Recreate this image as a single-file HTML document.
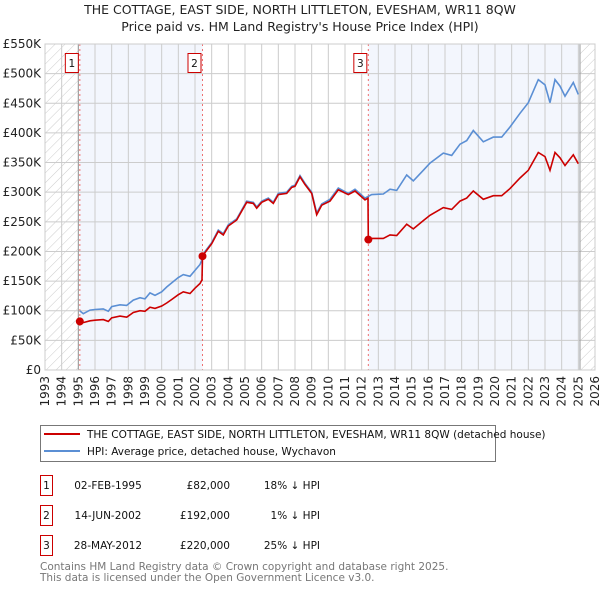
<!DOCTYPE html>
<html><head><meta charset="utf-8"><style>
body{margin:0;background:#fff;font-family:"DejaVu Sans","Liberation Sans",sans-serif;}
svg text{font-family:"DejaVu Sans","Liberation Sans",sans-serif;}
</style></head><body>
<svg id="chart" width="600" height="590" xmlns="http://www.w3.org/2000/svg">
<defs><pattern id="hatch" width="7" height="7" patternUnits="userSpaceOnUse" patternTransform="rotate(45)"><line x1="0" y1="0" x2="0" y2="7" stroke="#ccc" stroke-width="1"/></pattern></defs>
<text x="300" y="14" font-size="12.5" text-anchor="middle" fill="#222">THE COTTAGE, EAST SIDE, NORTH LITTLETON, EVESHAM, WR11 8QW</text>
<text x="300" y="31" font-size="12.5" text-anchor="middle" fill="#222">Price paid vs. HM Land Registry's House Price Index (HPI)</text>
<g id="plot"></g>
<g>
<rect x="40.5" y="425.5" width="455" height="36" fill="#fff" stroke="#777"/>
<line x1="44" y1="434" x2="80" y2="434" stroke="#cc0000" stroke-width="2"/>
<text x="87" y="438" font-size="10.5" fill="#111">THE COTTAGE, EAST SIDE, NORTH LITTLETON, EVESHAM, WR11 8QW (detached house)</text>
<line x1="44" y1="451" x2="80" y2="451" stroke="#5b8fd4" stroke-width="2"/>
<text x="87" y="455" font-size="10.5" fill="#111">HPI: Average price, detached house, Wychavon</text>
</g>
<g font-size="10.5" fill="#111">
<g><rect x="40.5" y="475.5" width="12" height="20" fill="#fff" stroke="#cc0000"/><text x="46.5" y="489" text-anchor="middle">1</text><text x="108" y="489" text-anchor="middle">02-FEB-1995</text><text x="230" y="489" text-anchor="end">£82,000</text><text x="320" y="489" text-anchor="end">18% ↓ HPI</text></g>
<g><rect x="40.5" y="505.5" width="12" height="20" fill="#fff" stroke="#cc0000"/><text x="46.5" y="519" text-anchor="middle">2</text><text x="108" y="519" text-anchor="middle">14-JUN-2002</text><text x="230" y="519" text-anchor="end">£192,000</text><text x="320" y="519" text-anchor="end">1% ↓ HPI</text></g>
<g><rect x="40.5" y="535.5" width="12" height="20" fill="#fff" stroke="#cc0000"/><text x="46.5" y="549" text-anchor="middle">3</text><text x="108" y="549" text-anchor="middle">28-MAY-2012</text><text x="230" y="549" text-anchor="end">£220,000</text><text x="320" y="549" text-anchor="end">25% ↓ HPI</text></g>
</g>
<text x="40" y="570" font-size="10.5" fill="#777">Contains HM Land Registry data © Crown copyright and database right 2025.</text>
<text x="40" y="581" font-size="10.5" fill="#777">This data is licensed under the Open Government Licence v3.0.</text>
</svg>
<script>
const yTicks=[0,50,100,150,200,250,300,350,400,450,500,550];
const yTickLabels=["£0","£50K","£100K","£150K","£200K","£250K","£300K","£350K","£400K","£450K","£500K","£550K"];
const xYears=[1993,1994,1995,1996,1997,1998,1999,2000,2001,2002,2003,2004,2005,2006,2007,2008,2009,2010,2011,2012,2013,2014,2015,2016,2017,2018,2019,2020,2021,2022,2023,2024,2025,2026];
const hpiYears=[1995.08,1995.3,1995.7,1996.0,1996.5,1996.8,1997.0,1997.5,1997.9,1998.3,1998.7,1999.0,1999.3,1999.6,2000.0,2000.3,2000.6,2001.0,2001.3,2001.7,2002.0,2002.3,2002.4,2002.6,2003.0,2003.4,2003.7,2004.0,2004.5,2004.8,2005.1,2005.5,2005.7,2006.0,2006.4,2006.7,2007.0,2007.5,2007.8,2008.0,2008.3,2008.6,2009.0,2009.3,2009.6,2010.1,2010.6,2011.2,2011.6,2012.2,2012.6,2013.3,2013.7,2014.1,2014.7,2015.1,2015.7,2016.1,2016.9,2017.4,2017.9,2018.3,2018.7,2019.3,2019.9,2020.4,2020.9,2021.5,2022.0,2022.6,2023.0,2023.3,2023.6,2023.9,2024.2,2024.7,2025.0];
const hpiValues=[100,95,101,102,103,99,107,110,109,118,122,120,130,126,132,140,147,156,161,158,168,178,185,200,215,236,230,245,255,270,285,283,275,285,290,283,298,300,310,312,328,315,300,265,280,288,307,298,305,290,296,297,305,303,329,319,337,349,366,362,381,387,404,385,393,393,410,433,451,490,481,451,490,479,462,485,465];
const redYears=[1995.09,1995.3,1995.7,1996.0,1996.5,1996.8,1997.0,1997.5,1997.9,1998.3,1998.7,1999.0,1999.3,1999.6,2000.0,2000.3,2000.6,2001.0,2001.3,2001.7,2002.0,2002.3,2002.42,2002.45,2002.6,2003.0,2003.4,2003.7,2004.0,2004.5,2004.8,2005.1,2005.5,2005.7,2006.0,2006.4,2006.7,2007.0,2007.5,2007.8,2008.0,2008.3,2008.6,2009.0,2009.3,2009.6,2010.1,2010.6,2011.2,2011.6,2012.2,2012.38,2012.4,2012.6,2013.3,2013.7,2014.1,2014.7,2015.1,2015.7,2016.1,2016.9,2017.4,2017.9,2018.3,2018.7,2019.3,2019.9,2020.4,2020.9,2021.5,2022.0,2022.6,2023.0,2023.3,2023.6,2023.9,2024.2,2024.7,2025.0];
const redValues=[82,80,83,84,85,82,88,91,89,97,100,99,106,104,108,113,119,127,132,129,138,146,152,192,198,213,234,228,243,253,268,283,281,273,283,288,281,296,298,308,310,326,313,298,262,278,285,304,296,302,287,290,220,222,222,228,227,246,238,252,261,274,271,285,290,302,288,294,294,306,324,337,367,360,337,367,358,345,363,348];
const saleYears=[1995.09,2002.45,2012.4];
const saleValues=[82,192,220];
const saleLabels=["1","2","3"];

const L=45,R=595,T=44,B=370,Y0=1993,Y1=2026,VMAX=550;
const xs=y=>L+(y-Y0)*(R-L)/(Y1-Y0);
const ys=v=>B-v*(B-T)/VMAX;
const NS="http://www.w3.org/2000/svg";
const g=document.getElementById('plot');
function mk(tag,attrs,parent){const e=document.createElementNS(NS,tag);for(const k in attrs)e.setAttribute(k,attrs[k]);(parent||g).appendChild(e);return e;}
// shaded bands
let e;
e=mk('rect',{x:xs(saleYears[0]),y:T,width:xs(saleYears[1])-xs(saleYears[0]),height:B-T,fill:'#eef2fc',opacity:0.7});


e=mk('rect',{x:xs(saleYears[2]),y:T,width:xs(2025.1)-xs(saleYears[2]),height:B-T,fill:'#eef2fc',opacity:0.7});


e=mk('rect',{x:L,y:T,width:xs(1995)-L,height:B-T,fill:'url(#hatch)'});


e=mk('rect',{x:xs(2025.1),y:T,width:R-xs(2025.1),height:B-T,fill:'url(#hatch)'});


// grid
yTicks.forEach((v,i)=>{
 e=mk('line',{x1:L,x2:R,y1:ys(v),y2:ys(v),stroke:'#ccc','stroke-width':1});
 
 
 e=mk('text',{x:L-4,y:ys(v)+4,'font-size':12,'text-anchor':'end',fill:'#222'});
 e.textContent=yTickLabels[i];
 
 
});
xYears.forEach(y=>{
 e=mk('line',{x1:xs(y),x2:xs(y),y1:T,y2:B,stroke:'#ccc','stroke-width':1});
 
 
 e=mk('text',{x:0,y:0,'font-size':12,'text-anchor':'end',fill:'#222',transform:`translate(${xs(y)+4},${B+6}) rotate(-90)`});
 e.textContent=y;
 
 
});
[1995,2025.1].forEach(y=>{e=mk('line',{x1:xs(y),x2:xs(y),y1:T,y2:B,stroke:'#999','stroke-width':1});
 
 });
// sale lines
saleYears.forEach(y=>{e=mk('line',{x1:xs(y),x2:xs(y),y1:T,y2:B,stroke:'#f07070','stroke-width':1,'stroke-dasharray':'2,3'});
 
 });
// series
const pts=(X,V)=>X.map((x,i)=>xs(x).toFixed(1)+','+ys(V[i]).toFixed(1)).join(' ');
e=mk('polyline',{points:pts(hpiYears,hpiValues),fill:'none',stroke:'#5b8fd4','stroke-width':1.6});


e=mk('polyline',{points:pts(redYears,redValues),fill:'none',stroke:'#cc0000','stroke-width':1.6});


saleYears.forEach((y,i)=>{
 e=mk('circle',{cx:xs(y),cy:ys(saleValues[i]),r:4,fill:'#cc0000'});
 
 
 e=mk('rect',{x:xs(y)-14.5,y:53.5,width:13,height:19,fill:'#fff',stroke:'#cc0000'});
 
 
 e=mk('text',{x:xs(y)-8,y:67,'font-size':10.5,'text-anchor':'middle',fill:'#111'});
 e.textContent=saleLabels[i];
 
 
});
e=mk('rect',{x:L,y:T,width:R-L,height:B-T,fill:'none',stroke:'#ccc'});


</script>
</body></html>
